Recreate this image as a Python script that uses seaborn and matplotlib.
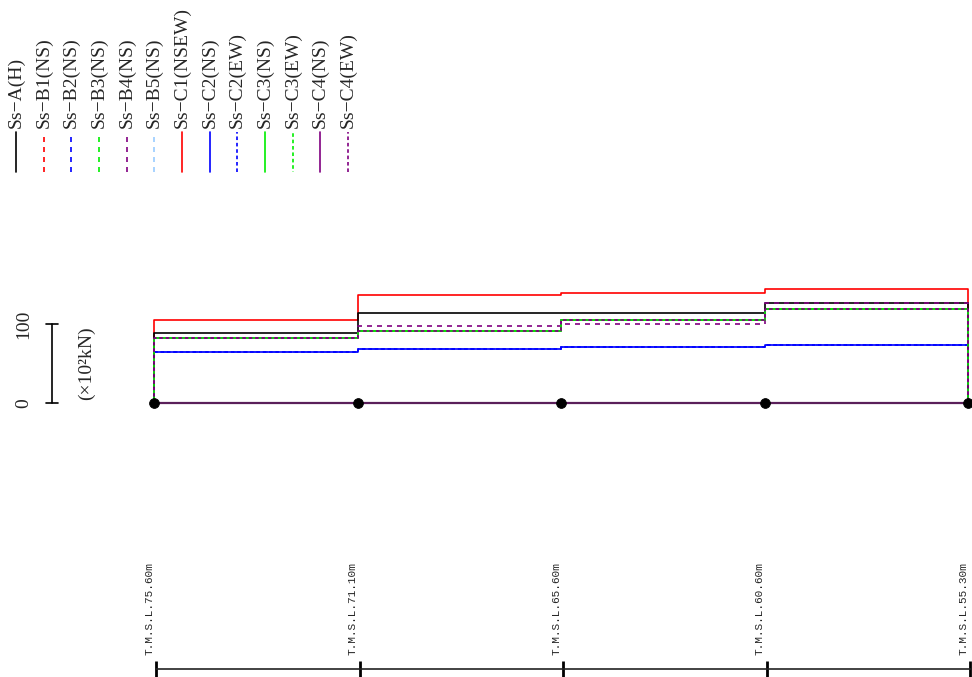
import numpy as np
import pandas as pd
import matplotlib
matplotlib.use("Agg")
import matplotlib.pyplot as plt
import matplotlib.transforms as mtransforms
from matplotlib.lines import Line2D
import seaborn as sns

# stations along the member (top -> bottom), drawn left to right
stations = ["T.M.S.L.75.60m", "T.M.S.L.71.10m", "T.M.S.L.65.60m",
            "T.M.S.L.60.60m", "T.M.S.L.55.30m"]

# section force per segment (x10^2 kN), one value per segment between stations
ss_a_h = [88.6, 114.0, 114.0, 127.0]
ss_b1_ns = [82.0, 91.0, 105.0, 119.0]
ss_b2_ns = [64.6, 68.4, 71.0, 72.8]
ss_b3_ns = [82.0, 91.0, 105.0, 119.0]
ss_b4_ns = [82.0, 97.5, 100.0, 127.0]
ss_b5_ns = [64.6, 68.4, 71.0, 72.8]
ss_c1_nsew = [105.0, 136.7, 139.0, 143.7]
ss_c2_ns = [64.6, 68.4, 71.0, 72.8]
ss_c2_ew = [64.6, 68.4, 71.0, 72.8]
ss_c3_ns = [82.0, 91.0, 105.0, 119.0]
ss_c3_ew = [82.0, 91.0, 105.0, 119.0]
ss_c4_ns = [82.0, 91.0, 105.0, 119.0]
ss_c4_ew = [82.0, 91.0, 105.0, 119.0]

series_names = ["Ss−A(H)", "Ss−B1(NS)", "Ss−B2(NS)", "Ss−B3(NS)", "Ss−B4(NS)",
                "Ss−B5(NS)", "Ss−C1(NSEW)", "Ss−C2(NS)", "Ss−C2(EW)",
                "Ss−C3(NS)", "Ss−C3(EW)", "Ss−C4(NS)", "Ss−C4(EW)"]
series_vals = [ss_a_h, ss_b1_ns, ss_b2_ns, ss_b3_ns, ss_b4_ns, ss_b5_ns,
               ss_c1_nsew, ss_c2_ns, ss_c2_ew, ss_c3_ns, ss_c3_ew,
               ss_c4_ns, ss_c4_ew]

LONG = (0, (3.6, 3.6))
SHORT = (0, (2.6, 2.0))
SHORT_OFF = (2.3, (2.6, 2.0))
styles = [("#000000", "-"), ("#ff0000", LONG), ("#0000ff", LONG),
          ("#00ee00", LONG), ("#800080", LONG), ("#99ccff", LONG),
          ("#ff0000", "-"), ("#0000ff", "-"), ("#0000ff", SHORT),
          ("#00ee00", "-"), ("#00ee00", SHORT_OFF), ("#800080", "-"),
          ("#800080", SHORT)]
# drawing layer of each series (solid ones underneath the dashed overlays)
layers = [2.2, 1.8, 1.8, 1.8, 2.4, 1.8, 2.1, 2.0, 2.1, 1.5, 2.5, 1.6, 2.6]

sns.set_style("white")
plt.rcParams["font.family"] = ["Liberation Serif", "DejaVu Serif"]
plt.rcParams["lines.scale_dashes"] = False

W, H = 972, 677
fig = plt.figure(figsize=(W / 100, H / 100), dpi=100)

def fx(px):
    return px / W

def fy(py):
    return 1 - py / H

# main diagram: 0 at y=403px, 100 at y=324px
px_per_unit = 0.79
ax = fig.add_axes([fx(154), fy(403), fx(968) - fx(154), (403 - 250) / H])
ax.set_xlim(0, len(stations) - 1)
ax.set_ylim(0, (403 - 250) / px_per_unit)
ax.axis("off")

for name, vals, (col, ls), z in zip(series_names, series_vals, styles, layers):
    xs, ys = [0], [0]
    for i, v in enumerate(vals):
        xs += [i, i + 1]
        ys += [v, v]
    xs += [len(vals)]
    ys += [0]
    df = pd.DataFrame({"x": xs, "y": ys})
    sns.lineplot(data=df, x="x", y="y", sort=False, estimator=None, ax=ax,
                 color=col, linestyle=ls, linewidth=1.2, clip_on=False, zorder=z)

# zero line of the diagram
ax.axhline(0, color="#5a1f5a", lw=1.6, zorder=3, clip_on=False)

sns.scatterplot(x=np.arange(len(stations)), y=np.zeros(len(stations)), ax=ax,
                color="black", s=50, edgecolor="black", zorder=5, clip_on=False)
ax.set_xlabel("")
ax.set_ylabel("")

# scale bar
tr = mtransforms.blended_transform_factory(fig.transFigure, ax.transData)
ax.plot([fx(52), fx(52)], [0, 100], color="black", lw=1.2, transform=tr, clip_on=False)
for v in (0, 100):
    ax.plot([fx(46), fx(58)], [v, v], color="black", lw=1.2, transform=tr, clip_on=False)
    ax.text(fx(24), v, str(v), rotation=90, ha="center", va="center",
            fontsize=14, transform=tr)
ax.text(fx(86), 50, "(×10²kN)", rotation=90, ha="center", va="center",
        fontsize=14, transform=tr)

# legend (rotated)
for k, (name, (col, ls)) in enumerate(zip(series_names, styles)):
    x = fx(16 + k * 27.67)
    fig.add_artist(Line2D([x, x], [fy(172), fy(132)], color=col, linestyle=ls,
                          linewidth=1.2))
    fig.text(x, fy(128), name, rotation=90, ha="center", va="bottom", fontsize=14)

# station axis at the bottom
ax2 = fig.add_axes([fx(156), fy(669), fx(970) - fx(156), 0.01])
ax2.set_xlim(0, len(stations) - 1)
ax2.set_ylim(0, 1)
for s in ("top", "left", "right"):
    ax2.spines[s].set_visible(False)
ax2.spines["bottom"].set_linewidth(1.2)
ax2.spines["bottom"].set_color("#222222")
ax2.set_yticks([])
ax2.set_xticks(range(len(stations)))
ax2.set_xticklabels([])
ax2.tick_params(axis="x", direction="inout", length=12, width=2, color="black", bottom=True)
ax2.patch.set_alpha(0)
for i, lab in enumerate(stations):
    ax2.annotate(lab, xy=(i, 0), xytext=(-5, 10), textcoords="offset points",
                 rotation=90, ha="center", va="bottom", fontsize=8,
                 family=["Liberation Mono", "DejaVu Sans Mono"])

fig.savefig("out.png", dpi=100)
